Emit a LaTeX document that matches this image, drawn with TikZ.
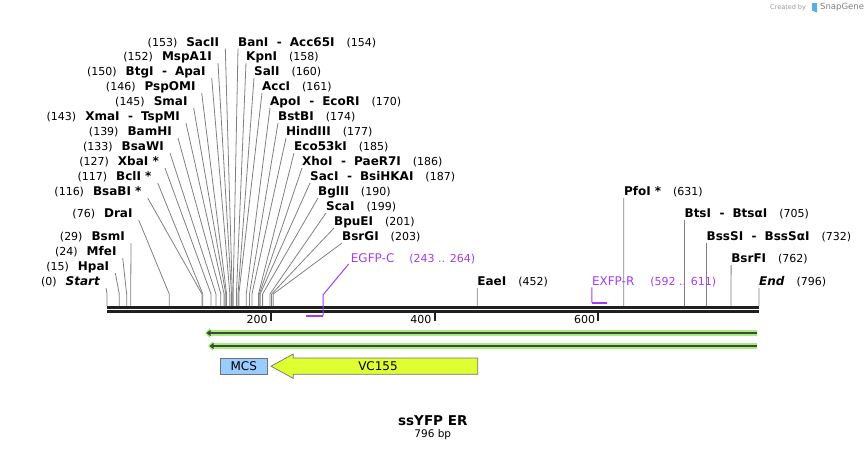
\documentclass[tikz,border=0pt]{standalone}
\usepackage{fontspec}
\setmainfont{DejaVu Sans}
\usetikzlibrary{arrows.meta}
\definecolor{primer}{HTML}{A23CF2}
\definecolor{orfglow}{HTML}{A6EE7C}
\definecolor{orfline}{HTML}{404840}
\definecolor{vcfill}{HTML}{E0FF33}
\definecolor{mcsfill}{HTML}{99CCFF}
\definecolor{sgblue}{HTML}{5AAEE8}
\newcommand\enz[1]{{\fontsize{12}{14}\selectfont\bfseries #1}}
\newcommand\enzsep{\hspace{8.5pt}-\hspace{8pt}}

\begin{document}
\begin{tikzpicture}[x=1pt,y=-1pt,font=\fontsize{11}{13}\selectfont,
lbl/.style={inner sep=0pt},
cut/.style={draw=black!50, line width=0.8pt},
seq/.style={line width=2.7pt, black!88},
tick/.style={line width=2pt, black!88},
primerline/.style={draw=primer, line width=1pt},
primerbar/.style={draw=primer, line width=2pt},
glow/.style={line width=5.5pt, orfglow, -{Triangle[length=5pt,width=10pt]}},
orf/.style={line width=2.2pt, orfline, -{Triangle[length=4pt,width=6pt]}},
feat/.style={draw=black!55, line width=0.7pt}]
\useasboundingbox (0,0) rectangle (868,451);

% sequence
\coordinate (seqL) at (107,307.3);
\coordinate (seqR) at (759,307.3);
\draw[seq] (seqL) -- (seqR);
\draw[seq] ([yshift=-4pt]seqL) -- ([yshift=-4pt]seqR);
\foreach \t in {200,400,600}{
  \coordinate (t\t) at ({107+0.819*\t},313);
  \draw[tick] (t\t) -- ++(0,7.5);
  \node[lbl,anchor=east] (tl\t) at ([shift={(-3,6)}]t\t) {\t};
}

% enzymes, left side
\foreach \pos/\tx/\ty/\nm in {153/219.3/42.5/SacII, 152/212/57/MspA1I,
  150/205.7/72/{BtgI\enzsep ApaI}, 146/195.7/87/PspOMI, 145/187.7/102/SmaI,
  143/180/117/{XmaI\enzsep TspMI}, 139/172/132/BamHI, 133/164/147/BsaWI,
  127/159/162/{XbaI *}, 117/151.7/177/{BclI *}, 116/141.7/192/{BsaBI *},
  76/132.7/214/DraI, 29/125/237/BsmI, 24/116.7/252/MfeI, 15/109.3/267/HpaI,
  0/100/282/{\itshape Start}}{
  \node[lbl,anchor=east] (L\pos) at (\tx,\ty) {(\pos)\hspace{9pt}\enz{\nm}};
  \coordinate (s\pos) at ({107+0.819*\pos},294);
  \draw[cut] ([shift={(6,6)}]L\pos.east) -- (s\pos) -- ++(0,12);
}

% enzymes, right side
\foreach \pos/\tx/\ty/\nm in {154/238/42.5/{BanI\enzsep Acc65I}, 158/246/57/KpnI,
  160/254/72/SalI, 161/262/87/AccI, 170/270/102/{ApoI\enzsep EcoRI},
  174/278/117/BstBI, 177/286/132/HindIII, 185/294/147/Eco53kI,
  186/302/162/{XhoI\enzsep PaeR7I}, 187/310/177/{SacI\enzsep BsiHKAI},
  190/318/192/BglII, 199/326/207/ScaI, 201/334/222/BpuEI, 203/342/237/BsrGI,
  452/477.2/282/EaeI, 631/623.8/192/{PfoI *}, 705/684.4/214/{BtsI\enzsep BtsαI},
  732/706.5/237/{BssSI\enzsep BssSαI}, 762/731.1/259/BsrFI,
  796/759/282/{\itshape End}}{
  \node[lbl,anchor=west] (R\pos) at (\tx,\ty) {\enz{\nm}\hspace{12pt}(\pos)};
  \coordinate (s\pos) at ({107+0.819*\pos},294);
  \draw[cut] ([shift={(0,6)}]R\pos.west) -- (s\pos) -- ++(0,12);
}

% primers
\node[lbl,anchor=west,text=primer,font=\fontsize{12}{14}\selectfont] (egfpc) at (350.7,259)
  {EGFP-C\hspace{15pt}{\fontsize{11}{13}\selectfont(243 .. 264)}};
\coordinate (egfpc-a) at ({107+0.819*243},315.7);
\coordinate (egfpc-b) at ({107+0.819*264},315.7);
\draw[primerbar] (egfpc-a) -- (egfpc-b);
\draw[primerline] (egfpc-b) -- ++(0,-21) -- ([shift={(-2,5)}]egfpc.west);

\node[lbl,anchor=west,text=primer,font=\fontsize{12}{14}\selectfont] (exfpr) at (591.8,282)
  {EXFP-R\hspace{16pt}{\fontsize{11}{13}\selectfont(592 .. 611)}};
\coordinate (exfpr-a) at ({107+0.819*592},302.7);
\coordinate (exfpr-b) at ({107+0.819*611},302.7);
\draw[primerbar] (exfpr-a) -- (exfpr-b);
\draw[primerline] (exfpr-a) -- (exfpr.south west);

% features
\coordinate (orf1-s) at (757,333);
\coordinate (orf1-e) at (205,333);
\coordinate (orf2-s) at (757,346);
\coordinate (orf2-e) at (208,346);
\foreach \o in {orf1,orf2}{
  \draw[glow] (\o-s) -- (\o-e);
  \draw[orf] (\o-s) -- ([xshift=1.5pt]\o-e);
}
\node[feat,fill=mcsfill,minimum width=47pt,minimum height=16.3pt,inner sep=0pt,
  font=\fontsize{12}{14}\selectfont] (mcs) at (243.8,366.2) {MCS};
\filldraw[feat,fill=vcfill] (477.7,358) -- (293.3,358) -- (293.3,354) -- (271,366.2)
  -- (293.3,378.4) -- (293.3,374.3) -- (477.7,374.3) -- cycle;
\node[font=\fontsize{12}{14}\selectfont] (vc155) at (378,366.2) {VC155};

% title
\node[font=\fontsize{13.5}{16}\selectfont\bfseries] (title) at (432.8,420.5) {ssYFP ER};
\node[font=\fontsize{10.5}{12}\selectfont] (size) at (432.8,435) {796 bp};

% watermark
\node[lbl,anchor=west,text=black!40,font=\fontsize{6.5}{8}\selectfont] (wm) at (770,7.5) {Created by};
\fill[sgblue] (812,3) -- (817,3) -- (817,12.5) -- (812,10.5) -- cycle;
\node[lbl,anchor=west,text=black!50,font=\fontsize{8.5}{10}\selectfont] (sg) at (820,7.5) {SnapGene};
\end{tikzpicture}
\end{document}
